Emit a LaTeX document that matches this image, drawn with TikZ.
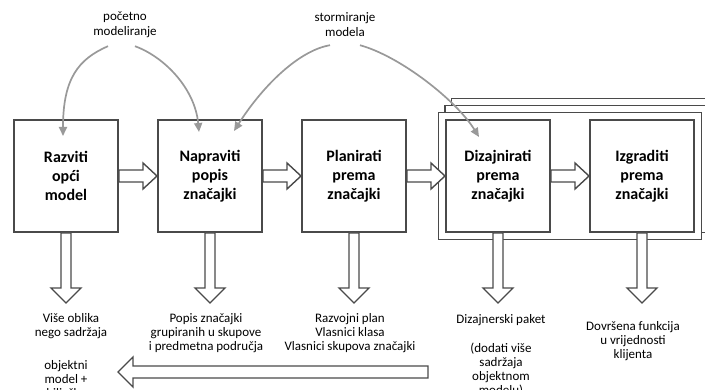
\documentclass[tikz,border=0pt]{standalone}
\usepackage{fontspec}
\setmainfont{Carlito}
\usetikzlibrary{positioning,fit,calc,backgrounds,arrows.meta}

\definecolor{boxline}{HTML}{4A4A4A}
\definecolor{curvegray}{HTML}{999999}

\tikzset{
  featbox/.style={draw=boxline, line width=2pt, fill=white, minimum width=104pt, minimum height=112pt,
    inner sep=0pt, align=center, font=\fontsize{16}{19}\selectfont\bfseries},
  iterframe/.style={draw=boxline, line width=1.4pt, fill=white, inner sep=6.5pt},
  blockarr/.style={draw=boxline, line width=1.4pt, fill=white, line join=miter},
  modelcurve/.style={draw=curvegray, line width=1.7pt, -{Triangle[length=9pt,width=8pt]}},
  outtext/.style={inner sep=0pt, align=center, font=\fontsize{13}{14}\selectfont},
  toptext/.style={inner sep=0pt, align=center, font=\fontsize{13}{15}\selectfont}
}

% hollow block arrow: start, tip, shaft half width, head half width, head length
\newcommand{\blockarrow}[5]{%
  \coordinate (ba-base) at ($(#2)!#5!(#1)$);
  \draw[blockarr] ($(#1)!#3!90:(#2)$) -- ($(ba-base)!#3!90:(#2)$) -- ($(ba-base)!#4!90:(#2)$)
    -- (#2) -- ($(ba-base)!#4!-90:(#2)$) -- ($(ba-base)!#3!-90:(#2)$) -- ($(#1)!#3!-90:(#2)$) -- cycle;}

\begin{document}
\begin{tikzpicture}[x=1pt, y=-1pt]
\useasboundingbox (0,0) rectangle (705,390);

% the five steps
\node[featbox] (b1) at (66,176) {Razviti\\opći\\model};
\node[featbox, right=38pt of b1] (b2) {Napraviti\\popis\\značajki};
\node[featbox, right=38pt of b2] (b3) {Planirati\\prema\\značajki};
\node[featbox, right=38pt of b3] (b4) {Dizajnirati\\prema\\značajki};
\node[featbox, right=38pt of b4] (b5) {Izgraditi\\prema\\značajki};

% stacked frames, one per feature
\begin{scope}[on background layer]
  \node[iterframe, fit=(b4)(b5), xshift=13pt, yshift=14pt] (fr3) {};
  \node[iterframe, fit=(b4)(b5), xshift=6.5pt, yshift=7pt] (fr2) {};
  \node[iterframe, fit=(b4)(b5)] (fr1) {};
\end{scope}

% flow between steps
\blockarrow{b1.east}{b2.west}{6pt}{13pt}{14pt}
\blockarrow{b2.east}{b3.west}{6pt}{13pt}{14pt}
\blockarrow{b3.east}{b4.west}{6pt}{13pt}{14pt}
\blockarrow{b4.east}{b5.west}{6pt}{13pt}{14pt}

% outputs
\foreach \b in {1,...,5} {
  \coordinate (d\b) at ($(b\b.south)+(0,70)$);
  \blockarrow{b\b.south}{d\b}{5pt}{15pt}{15pt}
}

\node[outtext] (o1) at (71,326) {Više oblika\\nego sadržaja};
\node[outtext] (o2) at (206,333) {Popis značajki\\grupiranih u skupove\\i predmetna područja};
\node[outtext] (o3) at (350,333) {Razvojni plan\\Vlasnici klasa\\Vlasnici skupova značajki};
\node[outtext] (o4) at (501,355) {Dizajnerski paket\\[15pt](dodati više\\sadržaja\\objektnom\\modelu)};
\node[outtext] (o5) at (633,341) {Dovršena funkcija\\u vrijednosti\\klijenta};

% feedback into the model
\coordinate (backR) at (428,372);
\coordinate (backL) at (118,372);
\blockarrow{backR}{backL}{6pt}{15pt}{15pt}
\node[outtext] (o6) at (66,380) {objektni\\model +\\bilješke};

% modelling curves
\node[toptext] (init) at (125,25) {početno\\modeliranje};
\node[toptext] (storm) at (345,25) {stormiranje\\modela};
\coordinate (initL) at ([xshift=-17pt,yshift=-8pt]init.south);
\coordinate (initR) at ([xshift=10pt,yshift=-8pt]init.south);
\coordinate (stormL) at ([xshift=-15pt,yshift=-8pt]storm.south);
\coordinate (stormR) at ([xshift=15pt,yshift=-8pt]storm.south);

\draw[modelcurve] (initL) .. controls +(-30,13) and +(0,-57) .. ($(b1.north)+(-3,17)$);
\draw[modelcurve] (initR) .. controls +(30,11) and +(-4,-43) .. ($(b2.north)+(-11,13)$);
\draw[modelcurve] (stormL) .. controls +(-30,5) and +(30,-47) .. ($(b2.north)+(24,12)$);
\draw[modelcurve] (stormR) .. controls +(40,11) and +(-23,-37) .. ($(b4.north)+(-19,18)$);
\end{tikzpicture}
\end{document}
